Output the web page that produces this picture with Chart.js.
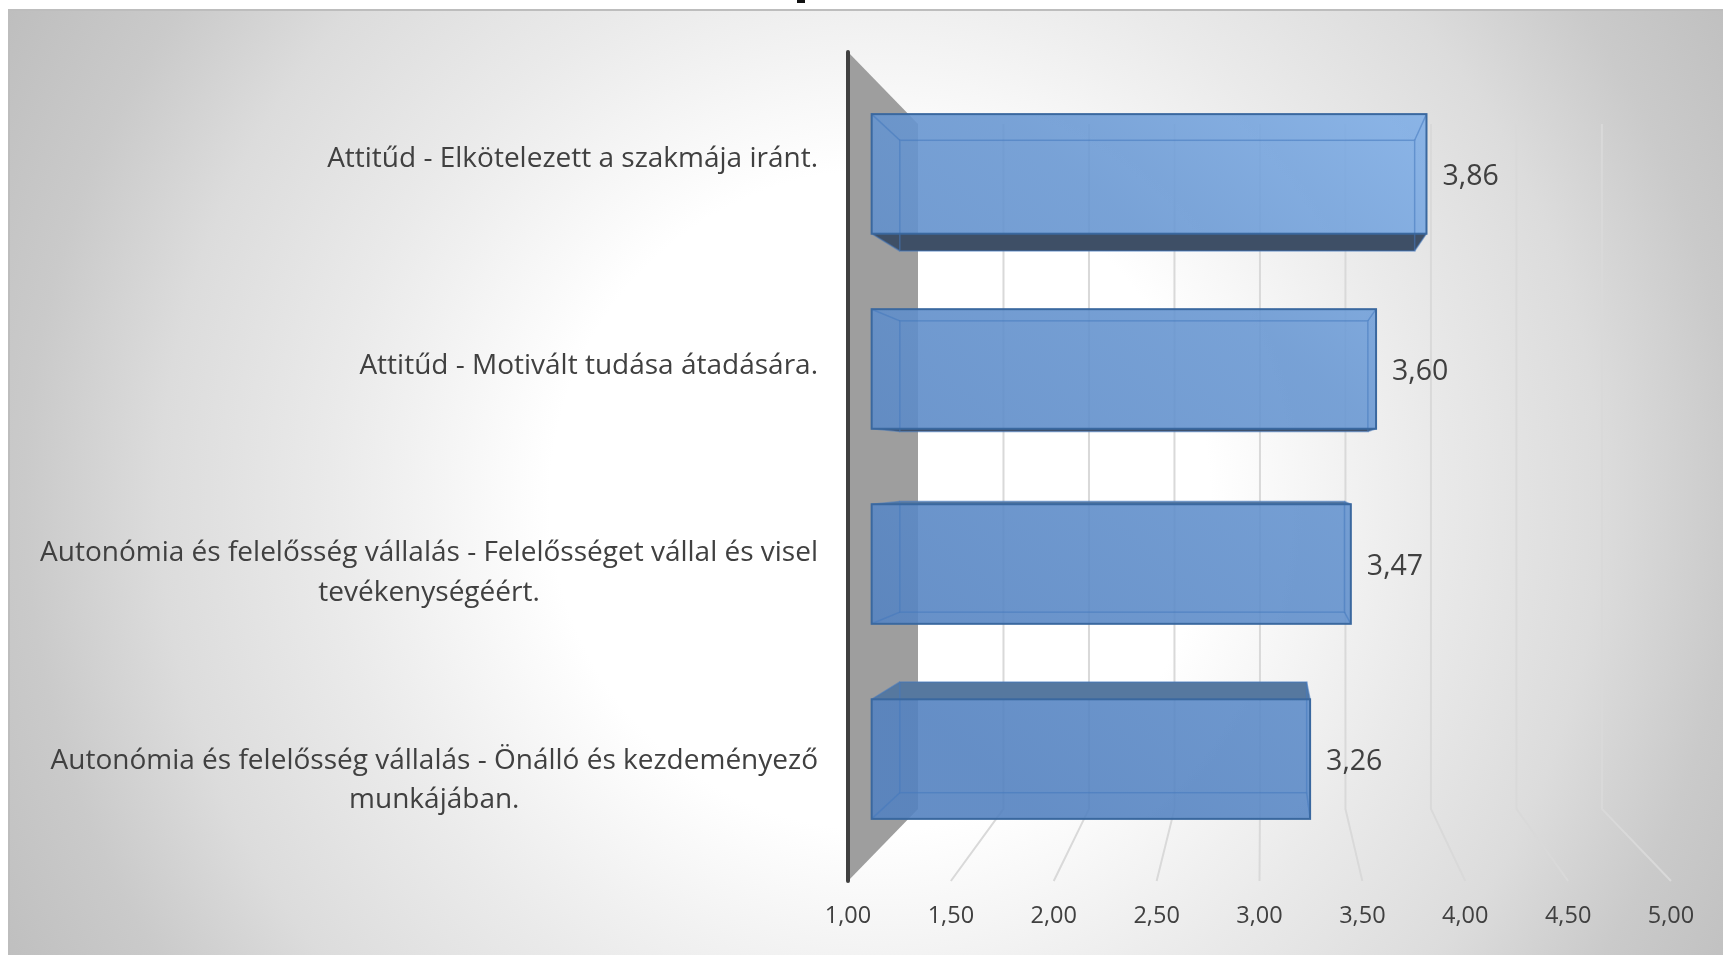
<!DOCTYPE html>
<html lang="hu">
<head>
  <meta charset="UTF-8" />
  <title>Attitűd és autonómia</title>
  <script src="https://cdn.jsdelivr.net/npm/chart.js"></script>
  <style>
    html, body { margin: 0; padding: 0; background: #fff; overflow: hidden; }
    #wrap { position: relative; width: 1723px; height: 955px; }
    #panel {
      position: absolute; left: 8px; top: 9px; right: 0; bottom: 0;
      border-left: 2px solid #bdbdbd; border-top: 2px solid #bdbdbd;
      background: radial-gradient(circle 1000px at 870px 489px, #ffffff 0%, #ffffff 33%, #f0f0f0 48.5%, #eaeaea 55%, #dcdcdc 72%, #cacaca 85.5%, #bebebe 100%);
    }
    #titleBit { position: absolute; left: 797px; top: 0; width: 8px; height: 3px; background: #111; }
    canvas { position: absolute; left: 0; top: 0; }
  </style>
</head>
<body>
  <div id="wrap">
    <div id="panel"></div>
    <div id="titleBit"></div>
    <canvas id="chart" width="1723" height="955"></canvas>
  </div>

  <script>
    const categories = [
      ['Attitűd - Elkötelezett a szakmája iránt.'],
      ['Attitűd - Motivált tudása átadására.'],
      ['Autonómia és felelősség vállalás - Felelősséget vállal és visel', 'tevékenységéért.'],
      ['Autonómia és felelősség vállalás - Önálló és kezdeményező', 'munkájában.']
    ];
    const values = [3.86, 3.60, 3.47, 3.26];
    const valueLabels = ['3,86', '3,60', '3,47', '3,26'];
    const tickLabels = ['1,00', '1,50', '2,00', '2,50', '3,00', '3,50', '4,00', '4,50', '5,00'];

    // Fake 3D: t=0 is the front plane of the axis, t=1 is the back wall
    const depthX = 70, shrinkX = 0.169, shrinkY = 0.174;
    const barFront = 0.338, barBack = 0.74;

    function projector(chart) {
      const a = chart.chartArea;
      const midY = (a.top + a.bottom) / 2;
      return {
        x: (px, t) => a.left + depthX * t + (px - a.left) * (1 - shrinkX * t),
        y: (py, t) => midY + (py - midY) * (1 - shrinkY * t)
      };
    }

    function poly(ctx, pts) {
      ctx.beginPath();
      pts.forEach((p, i) => i ? ctx.lineTo(p[0], p[1]) : ctx.moveTo(p[0], p[1]));
      ctx.closePath();
    }

    const box3d = {
      id: 'box3d',
      beforeDatasetsDraw(chart) {
        const { ctx, chartArea: a, scales } = chart;
        const p = projector(chart);

        // grey side wall
        ctx.save();
        ctx.fillStyle = '#9e9e9e';
        poly(ctx, [
          [a.left, a.top], [p.x(a.left, 1), p.y(a.top, 1)],
          [p.x(a.left, 1), p.y(a.bottom, 1)], [a.left, a.bottom]
        ]);
        ctx.fill();

        // grid lines on the back plane and floor
        ctx.strokeStyle = '#d9d9d9';
        ctx.lineWidth = 2;
        scales.x.ticks.forEach(tick => {
          if (tick.value === scales.x.min) return;
          const px = scales.x.getPixelForValue(tick.value);
          ctx.beginPath();
          ctx.moveTo(p.x(px, 1), p.y(a.top, 1));
          ctx.lineTo(p.x(px, 1), p.y(a.bottom, 1));
          ctx.lineTo(px, a.bottom);
          ctx.stroke();
        });

        // axis line
        ctx.strokeStyle = '#404040';
        ctx.lineWidth = 4;
        ctx.lineCap = 'round';
        ctx.beginPath();
        ctx.moveTo(a.left, a.top);
        ctx.lineTo(a.left, a.bottom);
        ctx.stroke();
        ctx.restore();
      },
      afterDatasetsDraw(chart) {
        const { ctx, chartArea: a, scales } = chart;
        const p = projector(chart);
        const baseX = scales.x.getPixelForValue(scales.x.min);

        const fill = ctx.createLinearGradient(p.x(a.right, 0.3), a.top + 60, a.left + 200, a.bottom - 60);
        fill.addColorStop(0, 'rgba(142,188,242,0.9)');
        fill.addColorStop(0.45, 'rgba(106,152,210,0.9)');
        fill.addColorStop(1, 'rgba(84,130,192,0.9)');

        ctx.save();
        chart.getDatasetMeta(0).data.forEach((bar, i) => {
          const top = bar.y - bar.height / 2, bottom = bar.y + bar.height / 2;
          const fl = p.x(baseX, barFront), fr = p.x(bar.x, barFront);
          const bl = p.x(baseX, barBack), br = p.x(bar.x, barBack);
          const ft = p.y(top, barFront), fb = p.y(bottom, barFront);
          const bt = p.y(top, barBack), bb = p.y(bottom, barBack);

          // underside or top seen past the front face
          if (bb > fb) {
            ctx.fillStyle = '#3e4f66';
            poly(ctx, [[fl, fb], [fr, fb], [br, bb], [bl, bb]]);
            ctx.fill();
          }
          if (bt < ft) {
            ctx.fillStyle = '#56789f';
            poly(ctx, [[fl, ft], [fr, ft], [br, bt], [bl, bt]]);
            ctx.fill();
          }

          ctx.fillStyle = fill;
          ctx.fillRect(fl, ft, fr - fl, fb - ft);

          // inner edges of the glass box
          ctx.strokeStyle = 'rgba(68,120,190,0.55)';
          ctx.lineWidth = 1.5;
          ctx.strokeRect(bl, bt, br - bl, bb - bt);
          [[fl, ft, bl, bt], [fr, ft, br, bt], [fl, fb, bl, bb], [fr, fb, br, bb]].forEach(e => {
            ctx.beginPath();
            ctx.moveTo(e[0], e[1]);
            ctx.lineTo(e[2], e[3]);
            ctx.stroke();
          });

          ctx.strokeStyle = '#3a689f';
          ctx.lineWidth = 2;
          ctx.strokeRect(fl, ft, fr - fl, fb - ft);

          // value label
          ctx.fillStyle = '#404040';
          ctx.font = '28.5px "Open Sans"';
          ctx.textAlign = 'left';
          ctx.textBaseline = 'middle';
          ctx.fillText(valueLabels[i], fr + 16, p.y(bar.y, barFront) + 3);
        });

        // category labels: right aligned block, wrapped lines centred inside it
        const lineH = 39.5, rightEdge = a.left - 30;
        ctx.fillStyle = '#404040';
        ctx.font = '28px "Open Sans"';
        ctx.textBaseline = 'middle';
        ctx.textAlign = 'center';
        categories.forEach((lines, i) => {
          const y = scales.y.getPixelForValue(i);
          const w = Math.max(...lines.map(l => ctx.measureText(l).width));
          lines.forEach((l, n) => {
            ctx.fillText(l, rightEdge - w / 2, y + 3 + (n - (lines.length - 1) / 2) * lineH);
          });
        });
        ctx.restore();
      }
    };

    new Chart(document.getElementById('chart'), {
      type: 'bar',
      data: {
        labels: categories.map(c => c.join(' ')),
        datasets: [{
          data: values,
          backgroundColor: 'rgba(0,0,0,0)',
          borderWidth: 0,
          barPercentage: 0.613,
          categoryPercentage: 1
        }]
      },
      options: {
        indexAxis: 'y',
        responsive: false,
        animation: false,
        layout: { padding: { top: 52, right: 52, left: 0, bottom: 0 } },
        plugins: { legend: { display: false }, tooltip: { enabled: false } },
        scales: {
          x: {
            min: 1,
            max: 5,
            grid: { display: false },
            border: { display: false },
            afterFit(scale) { scale.height = 74; },
            ticks: {
              stepSize: 0.5,
              autoSkip: false,
              maxRotation: 0,
              padding: 13,
              color: '#404040',
              font: { family: '"Open Sans"', size: 23.5 },
              callback: (v, i) => tickLabels[i]
            }
          },
          y: {
            grid: { display: false },
            border: { display: false },
            ticks: { display: false },
            afterFit(scale) { scale.width = 848; }
          }
        }
      },
      plugins: [box3d]
    });
  </script>
</body>
</html>
